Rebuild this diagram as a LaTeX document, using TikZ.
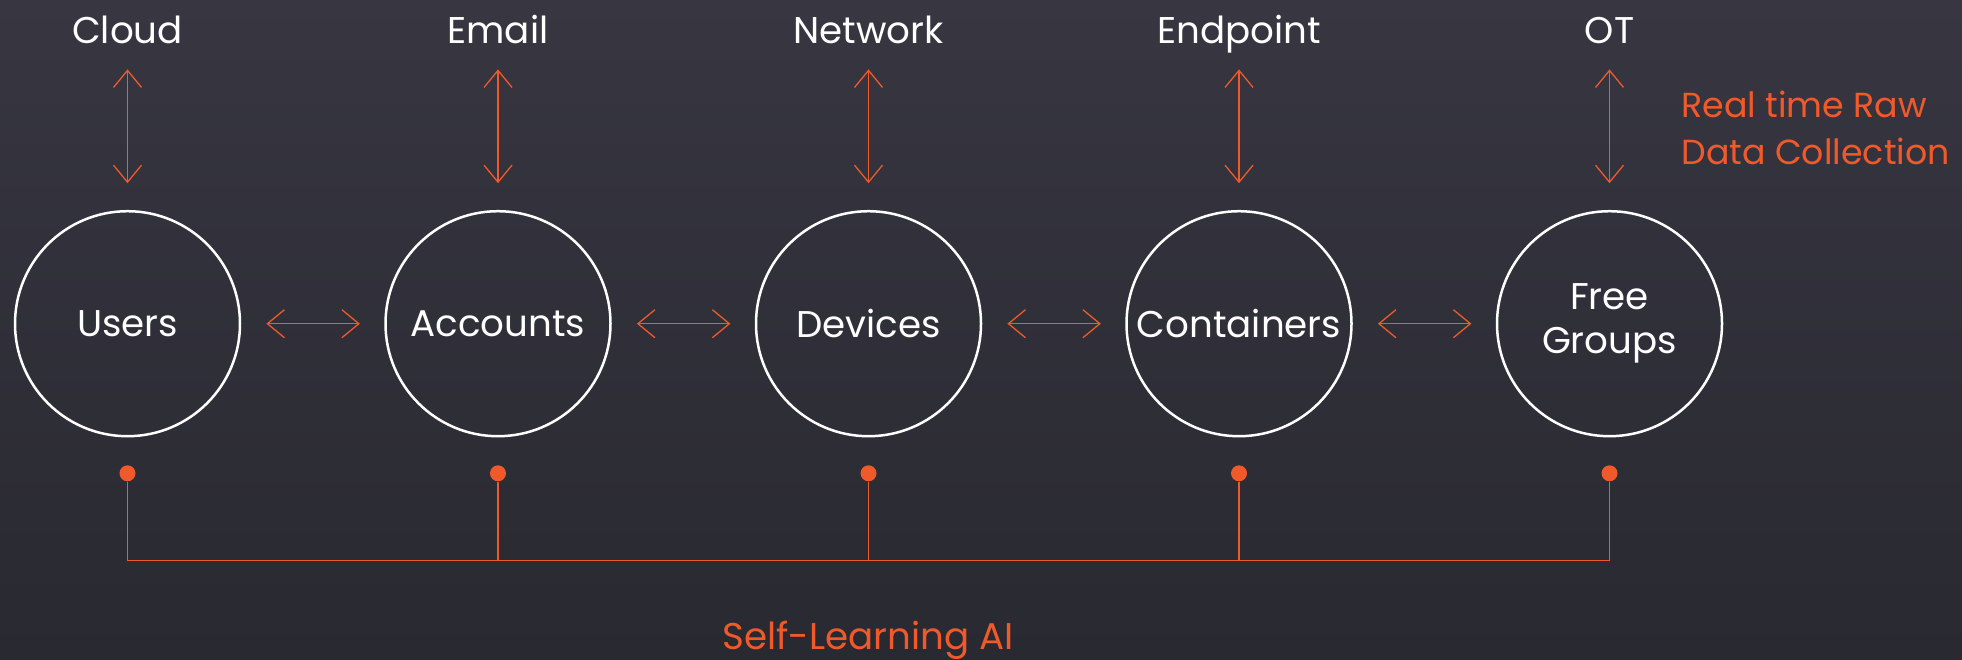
\documentclass[tikz,border=0pt]{standalone}
\usepackage{fontspec}
\setmainfont{Poppins}
\usetikzlibrary{arrows.meta}

\definecolor{dtorange}{RGB}{240,90,42}
\definecolor{bgtop}{RGB}{55,54,65}
\definecolor{bgbottom}{RGB}{41,41,49}

\tikzset{
	entity/.style={circle,draw=white,line width=1.25pt,minimum size=112.5pt,
		inner sep=0pt,outer sep=0pt,text=white,align=center},
	source/.style={text=white,anchor=base,inner sep=0pt,text depth=0pt},
	twoway/.style={<->,draw=dtorange,line width=0.65pt},
	wire/.style={draw=dtorange,line width=0.75pt},
	pin/.style={circle,fill=dtorange,minimum size=8pt,inner sep=0pt},
	note/.style={text=dtorange,inner sep=0pt}
}

\begin{document}
\begin{tikzpicture}[x=0.5pt,y=-0.5pt,>={Straight Barb[length=8.5pt,width=14pt]},
	font=\fontsize{18.6}{22}\selectfont]

\useasboundingbox (0,0) rectangle (1962,659);
\shade[top color=bgtop,bottom color=bgbottom] (0,0) rectangle (1962,659);

% entities, their sources and the pins below
\foreach \n/\x/\src/\lbl in {users/127.5/Cloud/Users,
		accounts/498/Email/Accounts,
		devices/868.5/Network/Devices,
		containers/1239/Endpoint/Containers,
		groups/1609.5/OT/{Free\\Groups}}{
	\node[entity] (\n) at (\x,323.7) {\lbl};
	\node[source] (\n-src) at (\x,43) {\src};
	\draw[twoway,shorten <=13pt,shorten >=14pt] (\n-src.south) -- (\n.north);
	\node[pin] (\n-pin) at (\x,473.3) {};
}

\foreach \a/\b in {users/accounts,accounts/devices,devices/containers,containers/groups}{
	\draw[twoway,shorten <=13.2pt,shorten >=12.8pt] (\a) -- (\b);
}

% bus
\coordinate (bus) at (0,560.7);
\draw[wire] (users-pin) |- (groups-pin |- bus) -- (groups-pin);
\foreach \n in {accounts,devices,containers}{
	\draw[wire] (\n-pin) -- (\n-pin |- bus);
}

\node[note,anchor=base] (ai) at (868,649) {Self-Learning AI};
\node[note,anchor=base west,align=left,font=\fontsize{17.4}{23.3}\selectfont]
	(rawdata) at (1681,164.3) {Real time Raw\\Data Collection};

\end{tikzpicture}
\end{document}
